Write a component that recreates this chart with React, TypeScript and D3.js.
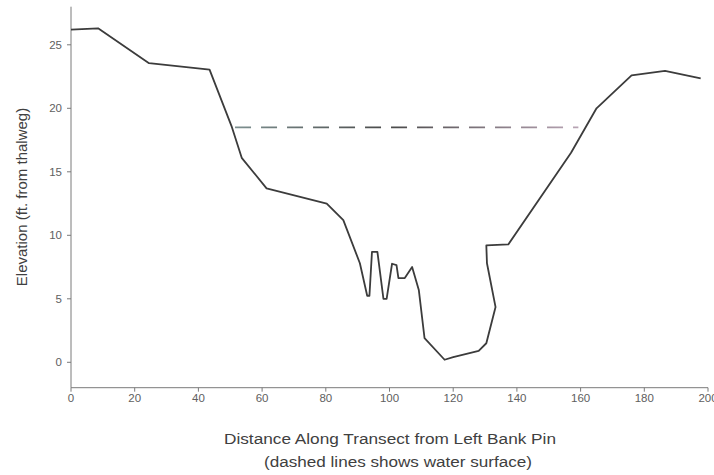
import React from "react";
import * as d3 from "d3";

const distance = [0, 8.5, 24.5, 43.5, 50.4, 53.6, 61.4, 80.3, 85.5, 90.7, 93.0, 93.7, 94.5, 96.2, 98.1, 99.1, 100.8, 102.2, 102.8, 104.8, 107.1, 109.2, 111.0, 117.3, 120.0, 128.0, 130.4, 133.3, 130.6, 130.4, 137.3, 157.0, 165.0, 176.0, 186.5, 197.7];
const elevation = [26.2, 26.3, 23.55, 23.05, 18.6, 16.1, 13.7, 12.5, 11.2, 7.8, 5.24, 5.24, 8.7, 8.7, 5.0, 5.0, 7.76, 7.65, 6.63, 6.63, 7.5, 5.7, 1.9, 0.2, 0.4, 0.9, 1.5, 4.35, 7.8, 9.2, 9.28, 16.5, 20.0, 22.6, 22.95, 22.35];
const waterDistance = [51.5, 159.3];
const waterElevation = [18.5, 18.5];
const xTicks = [0, 20, 40, 60, 80, 100, 120, 140, 160, 180, 200];
const yTicks = [0, 5, 10, 15, 20, 25];

export default function App() {
  const W = 714, H = 475;
  const x = d3.scaleLinear().domain([0, 200]).range([71, 708]);
  const y = d3.scaleLinear().domain([-2, 28]).range([387.7, 6.7]);
  const pts = distance.map((d, i) => [d, elevation[i]] as [number, number]);
  const line = d3.line<[number, number]>().x(d => x(d[0])).y(d => y(d[1]));
  const water = waterDistance.map((d, i) => [d, waterElevation[i]] as [number, number]);
  const font = "'Liberation Sans', Arial, sans-serif";
  const axisColor = "#7a7a7a";
  const tickText = "#606060";
  return (
    <svg width={W} height={H} style={{ position: "absolute", left: 0, top: 0, background: "#fff" }} fontFamily={font}>
      <defs>
        <linearGradient id="wg" gradientUnits="userSpaceOnUse" x1={x(waterDistance[0])} x2={x(waterDistance[1])} y1={0} y2={0}>
          <stop offset="0" stopColor="#7d9090" />
          <stop offset="0.45" stopColor="#4a4a4a" />
          <stop offset="1" stopColor="#b8a4b4" />
        </linearGradient>
      </defs>
      <rect width={W} height={H} fill="#fff" />
      {/* axes */}
      <line x1={x(0)} x2={x(0)} y1={y(28)} y2={y(-2)} stroke={axisColor} strokeWidth={1} />
      <line x1={x(0)} x2={x(200)} y1={y(-2)} y2={y(-2)} stroke={axisColor} strokeWidth={1} />
      {yTicks.map(t => (
        <g key={"y" + t}>
          <line x1={x(0) - 4} x2={x(0)} y1={y(t)} y2={y(t)} stroke={axisColor} />
          <text x={x(0) - 9} y={y(t)} dy="0.35em" textAnchor="end" fontSize={11.5} fill={tickText}>{t}</text>
        </g>
      ))}
      {xTicks.map(t => (
        <g key={"x" + t}>
          <line x1={x(t)} x2={x(t)} y1={y(-2)} y2={y(-2) + 4} stroke={axisColor} />
          <text x={x(t)} y={402} textAnchor="middle" fontSize={11.5} fill={tickText}>{t}</text>
        </g>
      ))}
      {/* water surface */}
      <path d={line(water) || ""} fill="none" stroke="url(#wg)" strokeWidth={1.6} strokeDasharray="16 10" />
      {/* profile */}
      <path d={line(pts) || ""} fill="none" stroke="#3c3c3c" strokeWidth={1.8} strokeLinejoin="round" />
      {/* titles */}
      <text x={390} y={444} textAnchor="middle" fontSize={15.5} fill="#404040" textLength={332} lengthAdjust="spacingAndGlyphs">Distance Along Transect from Left Bank Pin</text>
      <text x={398} y={467} textAnchor="middle" fontSize={15.5} fill="#404040" textLength={268} lengthAdjust="spacingAndGlyphs">(dashed lines shows water surface)</text>
      <text transform={`translate(27,197) rotate(-90)`} textAnchor="middle" fontSize={15} fill="#404040">Elevation (ft. from thalweg)</text>
    </svg>
  );
}
